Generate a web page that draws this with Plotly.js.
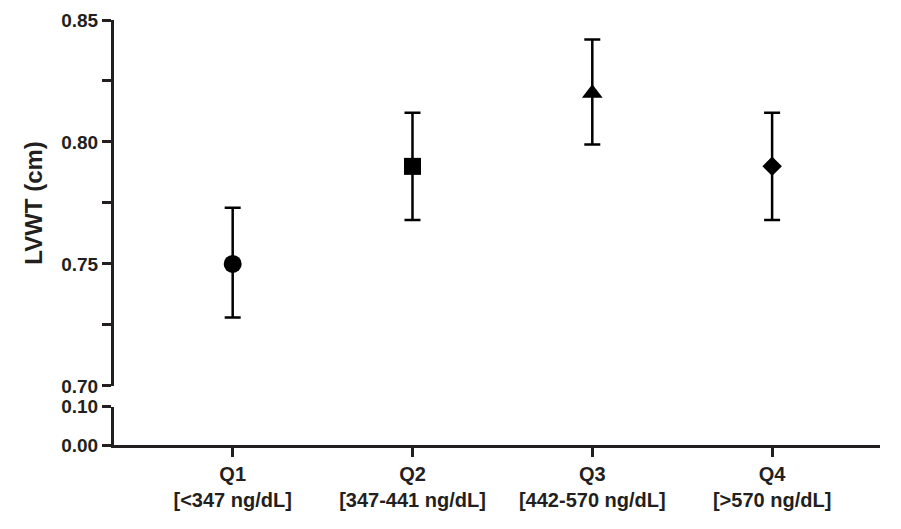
<!DOCTYPE html>
<html>
<head>
<meta charset="utf-8">
<script src="https://cdn.plot.ly/plotly-3.0.1.min.js"></script>
<style>body{margin:0}</style>
</head>
<body>
<div id="chart" style="width:901px;height:529px"></div>
<script>
// quartiles of the measured level
let categories = ['Q1', 'Q2', 'Q3', 'Q4'];
let rangeLabels = ['[&lt;347 ng/dL]', '[347-441 ng/dL]', '[442-570 ng/dL]', '[&gt;570 ng/dL]'];
let means = [0.750, 0.790, 0.820, 0.790];
let errUp = [0.023, 0.022, 0.022, 0.022];
let errDown = [0.022, 0.022, 0.021, 0.022];
let symbols = ['circle', 'square', 'triangle-up', 'diamond'];
let sizes = [18, 17, 18, 15];

let fam = 'Liberation Sans, Arial, sans-serif';
let ink = '#000000';

let xpos = categories.map((c, i) => i);

var points = {
  x: xpos,
  y: means,
  yaxis: 'y2',
  type: 'scatter',
  mode: 'markers',
  marker: {symbol: symbols, size: sizes, color: ink, opacity: 1, line: {width: 0}},
  error_y: {type: 'data', symmetric: false, array: errUp, arrayminus: errDown,
            color: ink, thickness: 2.5, width: 8},
  cliponaxis: false,
  hoverinfo: 'skip'
};

// empty trace so the lower axis segment gets drawn
var lower = {x: [0], y: [null], yaxis: 'y', type: 'scatter', mode: 'markers', hoverinfo: 'skip'};

var layout = {
  margin: {l: 114, r: 21, t: 20, b: 84},
  paper_bgcolor: 'white',
  plot_bgcolor: 'white',
  showlegend: false,
  font: {family: fam, size: 20, color: '#231f20'},
  xaxis: {
    range: [-0.66, 3.6],
    tickvals: xpos,
    ticktext: categories.map((c, i) => '<b>' + c + '</b><br><b>' + rangeLabels[i] + '</b>'),
    ticks: 'outside', ticklen: 9, tickwidth: 3, tickcolor: '#231f20',
    showline: true, linewidth: 3, linecolor: '#231f20',
    showgrid: false, zeroline: false,
    tickfont: {family: fam, size: 20, color: '#231f20'}
  },
  yaxis: {
    domain: [0, 0.09],
    range: [0, 0.10],
    tickvals: [0, 0.10],
    ticktext: ['<b>0.00</b>', '<b>0.10</b>'],
    ticks: 'outside', ticklen: 9, tickwidth: 3, tickcolor: '#231f20',
    showline: true, linewidth: 3, linecolor: '#231f20',
    showgrid: false, zeroline: false,
    tickfont: {family: fam, size: 19, color: '#231f20'}
  },
  yaxis2: {
    domain: [0.139, 1],
    range: [0.70, 0.85],
    tickvals: [0.70, 0.725, 0.75, 0.775, 0.80, 0.825, 0.85],
    ticktext: ['<b>0.70</b>', '', '<b>0.75</b>', '', '<b>0.80</b>', '', '<b>0.85</b>'],
    ticks: 'outside', ticklen: 9, tickwidth: 3, tickcolor: '#231f20',
    showline: true, linewidth: 3, linecolor: '#231f20',
    showgrid: false, zeroline: false,
    tickfont: {family: fam, size: 19, color: '#231f20'},
    title: {text: '<b>LVWT (cm)</b>', font: {family: fam, size: 24, color: '#231f20'}, standoff: 12}
  }
};

Plotly.newPlot('chart', [points, lower], layout, {displayModeBar: false, staticPlot: true});
</script>
</body>
</html>
